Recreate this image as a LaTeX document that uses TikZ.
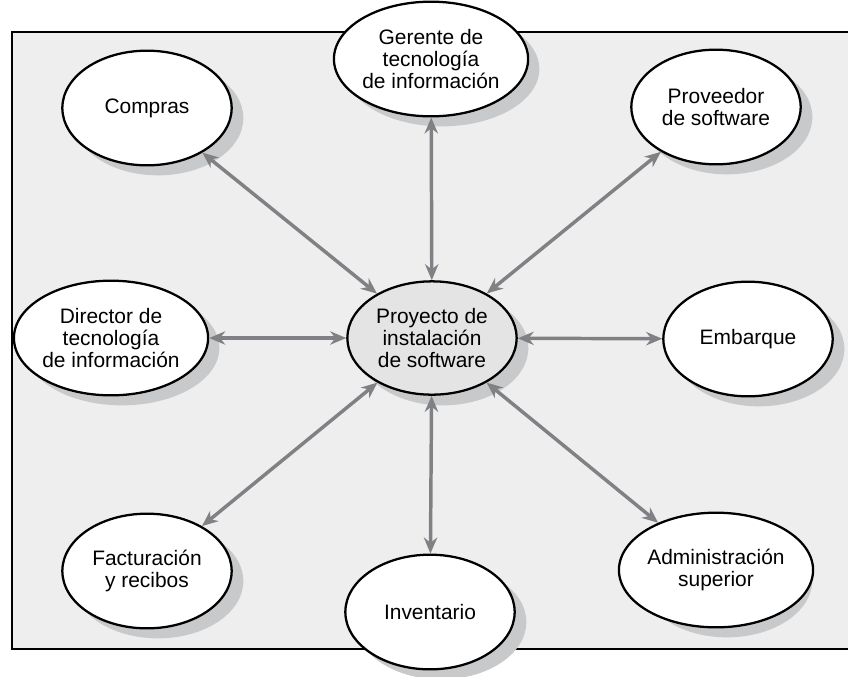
\documentclass[tikz,border=0pt]{standalone}
\usepackage{fontspec}
\setmainfont{Liberation Sans}
\usetikzlibrary{arrows.meta,shapes.geometric}
\definecolor{panelgray}{HTML}{EEEEEE}
\definecolor{hubgray}{HTML}{E4E4E5}
\definecolor{shadowgray}{HTML}{C8C9CB}
\definecolor{linkgray}{HTML}{808184}

\begin{document}
\begin{tikzpicture}[
      x=0.75pt,y=-0.75pt,
      link/.style={{Stealth[length=12pt,width=10pt]}-{Stealth[length=12pt,width=10pt]},
        draw=linkgray,line width=2.6pt},
      party/.style={ellipse,draw=black,line width=1.7pt,fill=white,
        minimum width=127pt,minimum height=86pt,inner sep=0pt,align=center,
        font=\fontsize{15.7}{16.5}\selectfont},
      wide/.style={minimum width=145pt},
      hub/.style={fill=hubgray,minimum height=85pt}]
    \useasboundingbox (0,0) rectangle (848,676);
    \draw[fill=panelgray,line width=1.8pt] (12,32) rectangle (870,649);

    % drop shadows
    \fill[shadowgray] (443,348) ellipse [x radius=64pt,y radius=43pt];
    \fill[shadowgray] (442,69) ellipse [x radius=73pt,y radius=43pt];
    \fill[shadowgray] (727,117) ellipse [x radius=64pt,y radius=43pt];
    \fill[shadowgray] (759,349) ellipse [x radius=64pt,y radius=43pt];
    \fill[shadowgray] (727,580) ellipse [x radius=64pt,y radius=43pt];
    \fill[shadowgray] (441,622) ellipse [x radius=64pt,y radius=43pt];
    \fill[shadowgray] (158,581) ellipse [x radius=64pt,y radius=43pt];
    \fill[shadowgray] (122,348) ellipse [x radius=73pt,y radius=43pt];
    \fill[shadowgray] (158,118) ellipse [x radius=64pt,y radius=43pt];

    \node[party,hub] (ctr) at (432,338) {Proyecto de\\instalación\\de software};
    \node[party,wide] (gte) at (431,59) {Gerente de\\tecnología\\de información};
    \node[party] (prv) at (716,107) {Proveedor\\de software};
    \node[party] (emb) at (748,339) {Embarque};
    \node[party] (adm) at (716,570) {Administración\\superior};
    \node[party] (inv) at (430,612) {Inventario};
    \node[party] (fac) at (147,571) {Facturación\\y recibos};
    \node[party,wide] (dir) at (111,338) {Director de\\tecnología\\de información};
    \node[party] (cmp) at (147,108) {Compras};

    \draw[link] (ctr) -- (gte);
    \draw[link] (ctr) -- (prv);
    \draw[link] (ctr) -- (emb);
    \draw[link] (ctr) -- (adm);
    \draw[link] (ctr) -- (inv);
    \draw[link] (ctr) -- (fac);
    \draw[link] (ctr) -- (dir);
    \draw[link] (ctr) -- (cmp);
  \end{tikzpicture}
\end{document}
